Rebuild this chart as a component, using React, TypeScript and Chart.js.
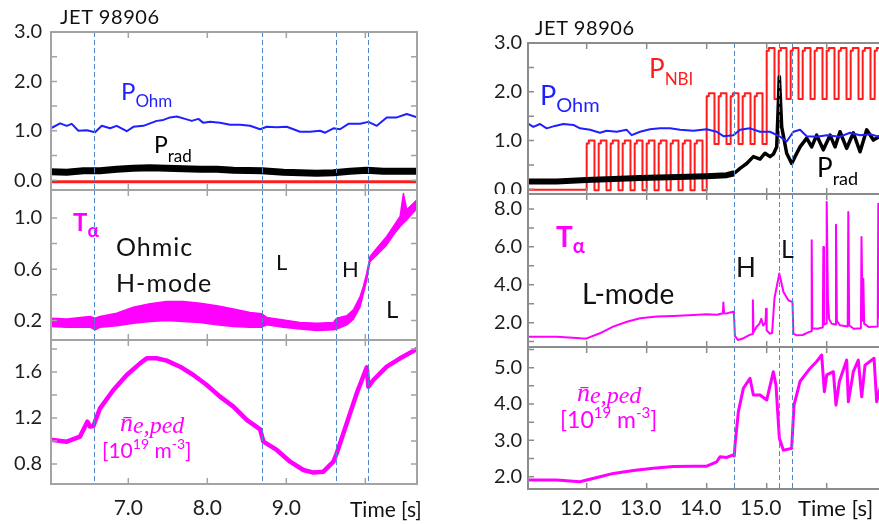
import React, { useEffect, useRef } from "react";
import { Chart, registerables } from "chart.js";

Chart.register(...registerables);

const SANS = "Lato, 'Open Sans', 'Noto Sans', sans-serif";
const SERIF = "'Liberation Serif', 'DejaVu Serif', serif";
const BLUE = "#1f1fff";
const RED = "#ff1c1c";
const MAGENTA = "#ff00ff";
const BLACK = "#000000";
const PHASE = "#4f87c9";
const TICK = "#1e1e1e";

// ---------------- Left column: Ohmic discharge ----------------
const leftXTicks = [7, 8, 9, 10];
const leftXLabels = [7, 8, 9];
const leftPhaseLines = [6.562, 8.689, 9.629, 10.038];

const ohmLT = [6.02, 6.136, 6.22, 6.284, 6.368, 6.474, 6.579, 6.664, 6.769, 6.853, 6.98, 7.064, 7.191, 7.275, 7.36, 7.444, 7.529, 7.613, 7.718, 7.803, 7.887, 7.95, 8.035, 8.161, 8.288, 8.415, 8.541, 8.668, 8.752, 8.879, 9.005, 9.09, 9.174, 9.301, 9.427, 9.491, 9.596, 9.68, 9.786, 9.934, 10.039, 10.145, 10.271, 10.398, 10.524, 10.655];
const ohmLV = [1.05, 1.15, 1.1, 1.14, 1.0, 1.01, 0.97, 1.1, 1.05, 1.1, 0.99, 1.08, 1.1, 1.15, 1.2, 1.22, 1.27, 1.29, 1.24, 1.2, 1.24, 1.16, 1.18, 1.16, 1.12, 1.12, 1.1, 1.03, 1.08, 1.07, 1.08, 1.03, 0.98, 0.98, 1.0, 0.96, 1.05, 1.03, 1.14, 1.14, 1.18, 1.1, 1.27, 1.27, 1.34, 1.27];

const pradLT = [6.02, 6.221, 6.431, 6.642, 6.853, 7.064, 7.275, 7.486, 7.697, 7.908, 8.119, 8.33, 8.689, 8.963, 9.174, 9.385, 9.596, 9.807, 10.018, 10.228, 10.44, 10.655];
const pradLV = [0.17, 0.16, 0.19, 0.19, 0.22, 0.24, 0.25, 0.24, 0.23, 0.22, 0.22, 0.2, 0.19, 0.16, 0.15, 0.14, 0.15, 0.18, 0.2, 0.18, 0.18, 0.18];

const nbiLT = [6.02, 10.655];
const nbiLV = [-0.035, -0.035];

const taLT = [6.02, 6.221, 6.516, 6.579, 6.642, 6.853, 7.064, 7.275, 7.486, 7.697, 7.908, 8.119, 8.33, 8.541, 8.689, 8.752, 8.963, 9.174, 9.385, 9.596, 9.638, 9.765, 9.849, 9.934, 9.976, 10.018, 10.039, 10.06, 10.145, 10.271, 10.356, 10.44, 10.482, 10.524, 10.655];
const taLHi = [0.218, 0.211, 0.231, 0.218, 0.231, 0.257, 0.304, 0.33, 0.348, 0.348, 0.335, 0.315, 0.289, 0.263, 0.252, 0.224, 0.205, 0.185, 0.179, 0.185, 0.218, 0.237, 0.283, 0.387, 0.465, 0.569, 0.634, 0.7, 0.764, 0.855, 0.933, 1.011, 1.19, 1.063, 1.141];
const taLLo = [0.153, 0.148, 0.148, 0.127, 0.148, 0.159, 0.179, 0.192, 0.2, 0.192, 0.185, 0.166, 0.153, 0.148, 0.148, 0.166, 0.148, 0.133, 0.122, 0.127, 0.133, 0.166, 0.211, 0.309, 0.413, 0.517, 0.595, 0.66, 0.712, 0.79, 0.869, 0.933, 0.96, 0.985, 1.076];

const neLT = [6.02, 6.221, 6.389, 6.482, 6.516, 6.558, 6.642, 6.811, 6.98, 7.149, 7.233, 7.36, 7.486, 7.655, 7.824, 7.993, 8.161, 8.33, 8.499, 8.668, 8.71, 8.879, 9.048, 9.216, 9.343, 9.469, 9.596, 9.638, 9.765, 9.891, 10.018, 10.039, 10.102, 10.271, 10.44, 10.655];
const neLV = [1.01, 0.994, 1.038, 1.168, 1.125, 1.13, 1.284, 1.443, 1.574, 1.675, 1.719, 1.719, 1.699, 1.646, 1.574, 1.487, 1.386, 1.299, 1.183, 1.101, 0.994, 0.922, 0.82, 0.748, 0.725, 0.733, 0.82, 0.893, 1.154, 1.414, 1.641, 1.472, 1.53, 1.646, 1.719, 1.8];

// ---------------- Right column: NBI heated discharge ----------------
const rightXTicks = [12, 13, 14, 15, 16];
const rightXLabels = [12, 13, 14, 15];
const rightPhaseLines = [14.46, 15.21, 15.43];

const ohmRT = [11.022, 11.111, 11.222, 11.333, 11.472, 11.611, 11.778, 11.889, 12.056, 12.222, 12.333, 12.5, 12.667, 12.75, 12.889, 13.056, 13.222, 13.389, 13.556, 13.778, 14.0, 14.167, 14.278, 14.444, 14.556, 14.722, 14.889, 15.056, 15.222, 15.333, 15.444, 15.556, 15.667, 15.833, 16.0, 16.222, 16.389, 16.556, 16.722, 16.872, 17.06];
const ohmRV = [1.35, 1.28, 1.34, 1.25, 1.3, 1.34, 1.32, 1.25, 1.22, 1.16, 1.2, 1.18, 1.22, 1.11, 1.18, 1.23, 1.25, 1.25, 1.22, 1.2, 1.23, 1.18, 1.09, 1.11, 1.22, 1.25, 1.18, 1.18, 1.08, 0.98, 1.18, 1.22, 1.09, 1.08, 1.11, 1.08, 1.16, 1.11, 1.13, 1.08, 1.08];

const pradRT = [11.022, 11.5, 12.0, 12.889, 14.0, 14.333, 14.461, 14.556, 14.667, 14.778, 14.889, 14.972, 15.056, 15.111, 15.167, 15.211, 15.25, 15.333, 15.417, 15.472, 15.556, 15.667, 15.75, 15.833, 15.944, 16.056, 16.139, 16.222, 16.333, 16.444, 16.556, 16.667, 16.778, 16.872, 17.06];
const pradRV = [0.16, 0.16, 0.19, 0.23, 0.27, 0.29, 0.33, 0.43, 0.53, 0.67, 0.62, 0.74, 0.67, 0.72, 0.87, 2.31, 1.28, 0.74, 0.53, 0.67, 0.87, 1.05, 0.87, 1.11, 0.81, 1.11, 0.87, 1.18, 0.84, 1.16, 0.77, 1.22, 1.01, 1.08, 1.05];
const pradRNoisyUntil = 14.46;

const nbiBase = -0.01;
const nbiRise = [12.0, 12.2, 12.4, 12.6, 12.8, 13.0, 13.2, 13.4, 13.6, 13.8, 14.0, 14.2, 14.4, 14.6, 14.8, 15.0, 15.2, 15.4, 15.6, 15.8, 16.0, 16.2, 16.4, 16.6, 16.8, 17.0];
const nbiFall = [12.13, 12.33, 12.53, 12.73, 12.93, 13.13, 13.33, 13.53, 13.73, 13.93, 14.13, 14.33, 14.53, 14.73, 14.93, 15.13, 15.33, 15.53, 15.73, 15.93, 16.13, 16.33, 16.53, 16.73, 16.93, 17.13];
const nbiHigh = [1.0, 1.0, 1.0, 1.0, 1.0, 1.0, 1.0, 1.0, 1.0, 1.0, 1.97, 1.97, 1.97, 1.97, 1.97, 2.9, 2.9, 2.9, 2.9, 2.9, 2.9, 2.9, 2.9, 2.9, 2.9, 2.9];
const nbiLow = [-0.02, -0.02, -0.02, -0.02, -0.02, -0.02, -0.02, -0.02, -0.02, -0.02, 0.93, 0.93, 0.93, 0.93, 0.93, 1.85, 1.85, 1.85, 1.85, 1.85, 1.85, 1.85, 1.85, 1.85, 1.85, 1.85];
const nbiNotchDepth = 0.06;
const nbiNotchTime = 0.035;

const taRT = [11.022, 11.5, 11.9, 12.0, 12.22, 12.44, 12.67, 12.89, 13.17, 13.44, 13.78, 14.0, 14.17, 14.27, 14.278, 14.29, 14.33, 14.44, 14.455, 14.47, 14.52, 14.6, 14.7, 14.76, 14.77, 14.78, 14.83, 14.88, 14.91, 14.94, 14.98, 14.99, 15.0, 15.05, 15.09, 15.13, 15.21, 15.28, 15.36, 15.43, 15.445, 15.5, 15.6, 15.7, 15.745, 15.75, 15.76, 15.85, 15.935, 15.944, 15.955, 15.99, 16.0, 16.02, 16.04, 16.08, 16.145, 16.155, 16.17, 16.22, 16.35, 16.36, 16.375, 16.45, 16.57, 16.58, 16.6, 16.61, 16.625, 16.7, 16.85, 16.86, 16.875, 16.9, 17.06];
const taRV = [1.26, 1.26, 1.18, 1.17, 1.44, 1.79, 2.05, 2.23, 2.32, 2.35, 2.4, 2.44, 2.42, 2.5, 3.06, 2.5, 2.49, 2.58, 2.45, 1.3, 1.09, 1.16, 1.33, 1.4, 3.18, 1.5, 1.77, 1.95, 2.2, 1.85, 2.0, 2.74, 1.6, 1.42, 1.45, 3.3, 4.59, 3.62, 3.18, 3.09, 1.42, 1.33, 1.35, 1.5, 1.55, 6.35, 1.7, 1.68, 1.75, 5.99, 1.9, 1.95, 8.37, 3.27, 2.2, 1.95, 1.9, 7.17, 2.1, 1.86, 1.8, 7.84, 1.86, 1.68, 1.7, 6.52, 2.1, 4.32, 1.95, 1.77, 1.8, 8.28, 2.5, 1.9, 1.9];

const neRT = [11.022, 11.5, 11.889, 12.0, 12.222, 12.444, 12.778, 13.111, 13.444, 13.778, 14.0, 14.167, 14.222, 14.333, 14.444, 14.46, 14.472, 14.528, 14.611, 14.722, 14.778, 14.889, 15.0, 15.111, 15.155, 15.211, 15.278, 15.416, 15.455, 15.555, 15.722, 15.833, 15.916, 15.961, 16.0, 16.111, 16.155, 16.211, 16.333, 16.361, 16.444, 16.527, 16.583, 16.639, 16.789, 16.833, 16.9, 17.06];
const neRV = [1.91, 1.91, 1.86, 1.91, 2.0, 2.09, 2.17, 2.23, 2.28, 2.29, 2.29, 2.41, 2.55, 2.53, 2.6, 2.57, 2.87, 3.79, 4.43, 4.71, 4.25, 4.25, 4.11, 4.89, 4.52, 3.06, 2.73, 2.78, 3.97, 4.62, 4.98, 5.17, 5.35, 4.34, 4.8, 4.89, 3.97, 4.62, 5.21, 4.06, 4.89, 5.21, 4.2, 5.07, 5.26, 4.06, 4.5, 4.6];

// ---------------- helpers ----------------
const zip = (t: number[], v: number[]) => t.map((x, i) => ({ x, y: v[i] }));

function nbiSteps(start: number) {
  const pts: { x: number; y: number }[] = [{ x: start, y: nbiBase }];
  let prev = nbiBase;
  nbiRise.forEach((r, i) => {
    const h = nbiHigh[i];
    pts.push({ x: r, y: prev });
    pts.push({ x: r, y: h - nbiNotchDepth });
    pts.push({ x: r + nbiNotchTime, y: h - nbiNotchDepth });
    pts.push({ x: r + nbiNotchTime, y: h });
    pts.push({ x: nbiFall[i], y: h });
    pts.push({ x: nbiFall[i], y: nbiLow[i] });
    prev = nbiLow[i];
  });
  return pts;
}

const line = (data: any[], color: string, width: number, order: number, extra: any = {}) => ({
  data,
  borderColor: color,
  backgroundColor: color,
  borderWidth: width,
  pointRadius: 0,
  tension: 0,
  fill: false,
  order,
  borderJoinStyle: "round",
  ...extra,
});

type Spec = {
  left: number; top: number; width: number; height: number;
  padTop: number; padRight: number; yAxisW: number; xAxisH: number;
  showX: boolean; xPad: number; xLabelOffset: number;
  xMin: number; xMax: number; yMin: number; yMax: number;
  yLabels: number[]; yTicks: number[]; yPad: number;
  xTicks: number[]; xLabels: number[];
  phaseLines: number[]; frameColor: string;
  makeDatasets: () => any[];
};

const leftCol = {
  left: 0, width: 420, yAxisW: 51, padRight: 3, xMin: 6.0215, xMax: 10.654,
  xTicks: leftXTicks, xLabels: leftXLabels, phaseLines: leftPhaseLines, frameColor: "#a3a3a3", yPad: 9,
  xPad: 12, xLabelOffset: 0,
};
const rightCol = {
  left: 470, width: 420, yAxisW: 58, padRight: 0, xMin: 11.022, xMax: 17.055,
  xTicks: rightXTicks, xLabels: rightXLabels, phaseLines: rightPhaseLines, frameColor: "#8c8c8c", yPad: 6,
  xPad: 7, xLabelOffset: -6,
};

const specs: Spec[] = [
  {
    ...leftCol, top: 20, height: 170, padTop: 12, xAxisH: 0, showX: false,
    yMin: -0.2, yMax: 3.0, yLabels: [0, 1, 2, 3], yTicks: [0, 0.5, 1, 1.5, 2, 2.5, 3],
    makeDatasets: () => [
      line(zip(ohmLT, ohmLV), BLUE, 2, 0),
      line(zip(pradLT, pradLV), BLACK, 7, 1),
      line(zip(nbiLT, nbiLV), RED, 3, 2),
    ],
  },
  {
    ...leftCol, top: 190, height: 150, padTop: 0, xAxisH: 0, showX: false,
    yMin: 0.048, yMax: 1.218, yLabels: [0.2, 0.6, 1.0], yTicks: [0.2, 0.4, 0.6, 0.8, 1.0],
    makeDatasets: () => [
      line(zip(taLT, taLHi), MAGENTA, 1.5, 0, { fill: "+1" }),
      line(zip(taLT, taLLo), MAGENTA, 1.5, 1),
    ],
  },
  {
    ...leftCol, top: 340, height: 184, padTop: 0, xAxisH: 40, showX: true,
    yMin: 0.626, yMax: 1.878, yLabels: [0.8, 1.2, 1.6], yTicks: [0.8, 1.0, 1.2, 1.4, 1.6, 1.8],
    makeDatasets: () => [line(zip(neLT, neLV), MAGENTA, 4.5, 0)],
  },
  {
    ...rightCol, top: 25, height: 169, padTop: 18, xAxisH: 0, showX: false,
    yMin: -0.096, yMax: 3.0, yLabels: [0, 1, 2, 3], yTicks: [0, 0.5, 1, 1.5, 2, 2.5, 3],
    makeDatasets: () => [
      line(zip(ohmRT, ohmRV), BLUE, 2, 0),
      line(zip(pradRT, pradRV), BLACK, 4, 1, {
        segment: { borderWidth: (c: any) => (c.p0.parsed.x < pradRNoisyUntil ? 6 : 3.5) },
      }),
      line(nbiSteps(11.022), RED, 2, 2),
    ],
  },
  {
    ...rightCol, top: 194, height: 153, padTop: 0, xAxisH: 0, showX: false,
    yMin: 0.716, yMax: 8.79, yLabels: [2, 4, 6, 8], yTicks: [1, 2, 3, 4, 5, 6, 7, 8],
    makeDatasets: () => [line(zip(taRT, taRV), MAGENTA, 2, 0)],
  },
  {
    ...rightCol, top: 347, height: 177, padTop: 0, xAxisH: 35, showX: true,
    yMin: 1.661, yMax: 5.57, yLabels: [2, 3, 4, 5], yTicks: [2, 2.5, 3, 3.5, 4, 4.5, 5, 5.5],
    makeDatasets: () => [line(zip(neRT, neRV), MAGENTA, 3, 0)],
  },
];

function framePlugin(s: Spec) {
  return {
    id: "frame",
    afterDatasetsDraw(chart: any) {
      const { ctx, chartArea: a, scales } = chart;
      const x = scales.x;
      const y = scales.y;
      ctx.save();
      ctx.strokeStyle = PHASE;
      ctx.lineWidth = 1;
      ctx.setLineDash([5, 3]);
      s.phaseLines.forEach((t) => {
        const px = Math.round(x.getPixelForValue(t)) + 0.5;
        ctx.beginPath();
        ctx.moveTo(px, a.top);
        ctx.lineTo(px, a.bottom);
        ctx.stroke();
      });
      ctx.setLineDash([]);
      ctx.strokeStyle = s.frameColor;
      ctx.lineWidth = 1.5;
      ctx.beginPath();
      s.yTicks.forEach((v) => {
        const py = y.getPixelForValue(v);
        ctx.moveTo(a.left, py);
        ctx.lineTo(a.left + 6, py);
        ctx.moveTo(a.right, py);
        ctx.lineTo(a.right - 6, py);
      });
      s.xTicks.forEach((t) => {
        const px = x.getPixelForValue(t);
        ctx.moveTo(px, a.top);
        ctx.lineTo(px, a.top + 6);
        ctx.moveTo(px, a.bottom);
        ctx.lineTo(px, a.bottom - 6);
      });
      ctx.stroke();
      ctx.lineWidth = 2;
      ctx.strokeRect(a.left, a.top, a.right - a.left, a.bottom - a.top);
      ctx.restore();
    },
  };
}

function buildConfig(s: Spec): any {
  return {
    type: "line",
    data: { datasets: s.makeDatasets() },
    plugins: [framePlugin(s)],
    options: {
      responsive: false,
      animation: false,
      events: [],
      layout: { padding: { top: s.padTop, bottom: 0, left: 0, right: s.padRight }, autoPadding: false },
      plugins: { legend: { display: false }, tooltip: { enabled: false } },
      scales: {
        x: {
          type: "linear", min: s.xMin, max: s.xMax, display: s.showX,
          grid: { display: false, drawTicks: false }, border: { display: false },
          ticks: {
            autoSkip: false, maxRotation: 0, padding: s.xPad, labelOffset: s.xLabelOffset,
            color: TICK, font: { family: SANS, size: 21 },
            callback: (v: any) => Number(v).toFixed(1),
          },
          afterBuildTicks: (sc: any) => { sc.ticks = s.xLabels.map((v) => ({ value: v })); },
          afterFit: (sc: any) => {
            sc.height = s.xAxisH;
            sc.paddingLeft = 0; sc.paddingRight = 0; sc.paddingTop = 0; sc.paddingBottom = 0;
          },
        },
        y: {
          type: "linear", min: s.yMin, max: s.yMax,
          grid: { display: false, drawTicks: false }, border: { display: false },
          ticks: {
            autoSkip: false, padding: s.yPad, color: TICK, font: { family: SANS, size: 20 },
            callback: (v: any) => Number(v).toFixed(1),
          },
          afterBuildTicks: (sc: any) => { sc.ticks = s.yLabels.map((v) => ({ value: v })); },
          afterFit: (sc: any) => {
            sc.width = s.yAxisW;
            sc.paddingLeft = 0; sc.paddingRight = 0; sc.paddingTop = 0; sc.paddingBottom = 0;
          },
        },
      },
    },
  };
}

function Panel({ spec }: { spec: Spec }) {
  const ref = useRef<HTMLCanvasElement | null>(null);
  useEffect(() => {
    if (!ref.current) return;
    const chart = new Chart(ref.current, buildConfig(spec));
    let alive = true;
    const fonts: any = (document as any).fonts;
    if (fonts && fonts.ready) fonts.ready.then(() => { if (alive) chart.update(); });
    return () => { alive = false; chart.destroy(); };
  }, [spec]);
  return (
    <canvas
      ref={ref}
      width={spec.width}
      height={spec.height}
      style={{ position: "absolute", left: spec.left, top: spec.top, width: spec.width, height: spec.height }}
    />
  );
}

function Txt(props: {
  x: number; base: number; size: number; color?: string; weight?: number; italic?: boolean;
  family?: string; ratio?: number; spacing?: number; children: React.ReactNode;
}) {
  const { x, base, size, color = "#111", weight = 400, italic = false, family = SANS, ratio = 0.887, spacing = 0 } = props;
  return (
    <div
      style={{
        position: "absolute", left: x, top: base - ratio * size, fontSize: size, lineHeight: 1,
        fontFamily: family, color, fontWeight: weight, fontStyle: italic ? "italic" : "normal",
        whiteSpace: "nowrap", letterSpacing: spacing,
      }}
    >
      {props.children}
    </div>
  );
}

const Sub = ({ size, shift, children }: { size: number; shift: number; children: React.ReactNode }) => (
  <span style={{ fontSize: size, position: "relative", top: shift }}>{children}</span>
);

export default function App() {
  return (
    <div style={{ position: "fixed", left: 0, top: 0, width: 879, height: 524, overflow: "hidden", background: "#fff" }}>
      {specs.map((s, i) => <Panel key={i} spec={s} />)}

      {/* left column */}
      <Txt x={60} base={24} size={20} spacing={0.6}>JET 98906</Txt>
      <Txt x={121} base={100} size={24} color={BLUE}>P<Sub size={17} shift={7}>Ohm</Sub></Txt>
      <Txt x={154} base={153} size={23} color={BLACK}>P<Sub size={17} shift={9}>rad</Sub></Txt>
      <Txt x={73} base={231} size={24} weight={700} color={MAGENTA}>T<Sub size={19} shift={6}>α</Sub></Txt>
      <Txt x={116} base={256.5} size={25} spacing={1}>Ohmic</Txt>
      <Txt x={116} base={291.7} size={25} spacing={1}>H-mode</Txt>
      <Txt x={276} base={271} size={22}>L</Txt>
      <Txt x={342} base={277.5} size={22}>H</Txt>
      <Txt x={386} base={318} size={24}>L</Txt>
      <Txt x={120} base={432} size={26} italic family={SERIF} ratio={0.8375} color={MAGENTA}>
        {"n\u0304"}<Sub size={24} shift={2}>e,ped</Sub>
      </Txt>
      <Txt x={102} base={458} size={21} color={MAGENTA}>
        [10<Sub size={14} shift={-9}>19</Sub> m<Sub size={14} shift={-9}>-3</Sub>]
      </Txt>
      <Txt x={350} base={517} size={21}>Time [s]</Txt>

      {/* right column */}
      <Txt x={535} base={35} size={20} spacing={0.6}>JET 98906</Txt>
      <Txt x={649} base={78} size={26} color={RED}>P<Sub size={17} shift={7}>NBI</Sub></Txt>
      <Txt x={540} base={105} size={27} color={BLUE}>P<Sub size={20} shift={7}>Ohm</Sub></Txt>
      <Txt x={817} base={177} size={26} color={BLACK}>P<Sub size={18} shift={8}>rad</Sub></Txt>
      <Txt x={556} base={247} size={28} weight={700} color={MAGENTA}>T<Sub size={20} shift={6}>α</Sub></Txt>
      <Txt x={582} base={303.5} size={28}>L-mode</Txt>
      <Txt x={736} base={277} size={26}>H</Txt>
      <Txt x={781} base={258} size={25}>L</Txt>
      <Txt x={577} base={401.7} size={26} italic family={SERIF} ratio={0.8375} color={MAGENTA}>
        {"n\u0304"}<Sub size={24} shift={2}>e,ped</Sub>
      </Txt>
      <Txt x={560} base={428.3} size={23} color={MAGENTA}>
        [10<Sub size={15} shift={-10}>19</Sub> m<Sub size={15} shift={-10}>-3</Sub>]
      </Txt>
      <Txt x={798} base={517} size={22}>Time [s]</Txt>
    </div>
  );
}
